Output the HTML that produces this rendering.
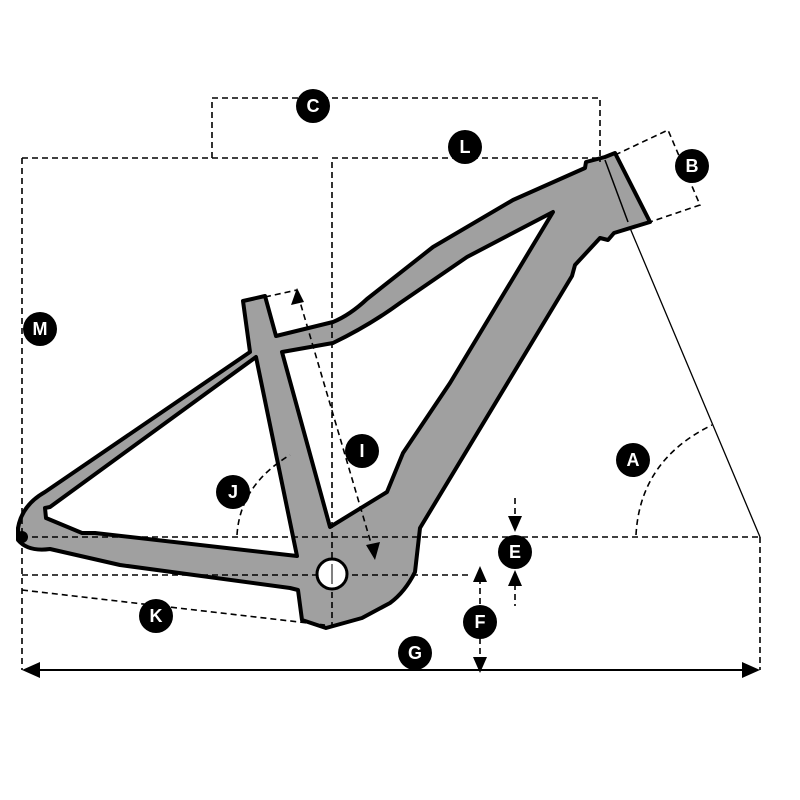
<!DOCTYPE html>
<html><head><style>html,body{margin:0;padding:0;background:#fff}svg{display:block}</style></head><body>
<svg width="800" height="800" viewBox="0 0 800 800" xmlns="http://www.w3.org/2000/svg">
<rect width="800" height="800" fill="#fff"/>
<!-- frame -->
<path d="M18,528 Q22,505 45,492 L250,352 L243,301 L265,296 L276,336 L333,322 Q350,315 367,299 L433,247 L513,200 L585,168 L586,162 L605,157 L615,153 L650,222 L614,233 L608,240 L600,238 L575,265 L572,276 L420,528 L415,572 Q405,592 390,603 L362,618 L326,628 L302,620 L298,590 L290,588 L120,565 L50,549 Q28,552 18,540 Z" fill="#a0a0a0" stroke="#000" stroke-width="4" stroke-linejoin="round"/>
<path d="M282,352 L333,343 Q370,325 400,303 L467,257 L553,212 L450,383 L403,453 L387,492 L330,527 Z" fill="#fff" stroke="#000" stroke-width="4" stroke-linejoin="round"/>
<path d="M50,507 L256,357 L297,556 L95,533 L82,533 L46,518 L45,508 Z" fill="#fff" stroke="#000" stroke-width="4" stroke-linejoin="round"/>
<line x1="605" y1="160" x2="628" y2="222" stroke="#000" stroke-width="1.5"/>
<circle cx="22" cy="537" r="6" fill="#000"/>
<!-- dashed lines -->
<g fill="none" stroke="#000" stroke-width="1.6" stroke-dasharray="6,4">
<polyline points="212,158 212,98 600,98 600,162"/>
<line x1="22" y1="158" x2="320" y2="158"/>
<polyline points="332,628 332,158 600,158"/>
<line x1="22" y1="158" x2="22" y2="670"/>
<line x1="22" y1="537" x2="760" y2="537"/>
<line x1="22" y1="575" x2="470" y2="575"/>
<line x1="22" y1="590" x2="325" y2="625"/>
<line x1="760" y1="537" x2="760" y2="670"/>
<line x1="480" y1="578" x2="480" y2="665"/>
<line x1="515" y1="498" x2="515" y2="522"/>
<line x1="515" y1="584" x2="515" y2="606"/>
<polyline points="615,155 668,130 700,205 650,222"/>
<polyline points="265,297 297,290"/>
<line x1="298" y1="295" x2="373" y2="550"/>
<path d="M237,535 Q240,485 290,455"/>
<path d="M636,535 Q640,460 712,425"/>
</g>
<line x1="630" y1="228" x2="760" y2="537" stroke="#000" stroke-width="1.3"/>
<circle cx="332" cy="574" r="15" fill="#fff" stroke="#000" stroke-width="3"/>
<line x1="332" y1="564" x2="332" y2="584" stroke="#000" stroke-width="1"/>
<!-- arrows -->
<line x1="32" y1="670" x2="750" y2="670" stroke="#000" stroke-width="2"/>
<polygon points="22,670 40,662 40,678" fill="#000"/>
<polygon points="760,670 742,662 742,678" fill="#000"/>
<polygon points="480,566 473,582 487,582" fill="#000"/>
<polygon points="480,673 473,657 487,657" fill="#000"/>
<polygon points="515,532 508,516 522,516" fill="#000"/>
<polygon points="515,570 508,586 522,586" fill="#000"/>
<polygon points="297,288 291,305 304,302" fill="#000"/>
<polygon points="375,560 366,545 380,542" fill="#000"/>
<!-- labels -->
<g font-family="Liberation Sans, sans-serif" font-weight="bold" font-size="18" fill="#fff" text-anchor="middle">
<g><circle cx="313" cy="106" r="17" fill="#000"/><text x="313" y="112">C</text></g>
<g><circle cx="465" cy="147" r="17" fill="#000"/><text x="465" y="153">L</text></g>
<g><circle cx="692" cy="166" r="17" fill="#000"/><text x="692" y="172">B</text></g>
<g><circle cx="40" cy="329" r="17" fill="#000"/><text x="40" y="335">M</text></g>
<g><circle cx="362" cy="451" r="17" fill="#000"/><text x="362" y="457">I</text></g>
<g><circle cx="633" cy="460" r="17" fill="#000"/><text x="633" y="466">A</text></g>
<g><circle cx="233" cy="492" r="17" fill="#000"/><text x="233" y="498">J</text></g>
<g><circle cx="515" cy="552" r="17" fill="#000"/><text x="515" y="558">E</text></g>
<g><circle cx="480" cy="622" r="17" fill="#000"/><text x="480" y="628">F</text></g>
<g><circle cx="156" cy="616" r="17" fill="#000"/><text x="156" y="622">K</text></g>
<g><circle cx="415" cy="653" r="17" fill="#000"/><text x="415" y="659">G</text></g>
</g>
</svg>
</body></html>
